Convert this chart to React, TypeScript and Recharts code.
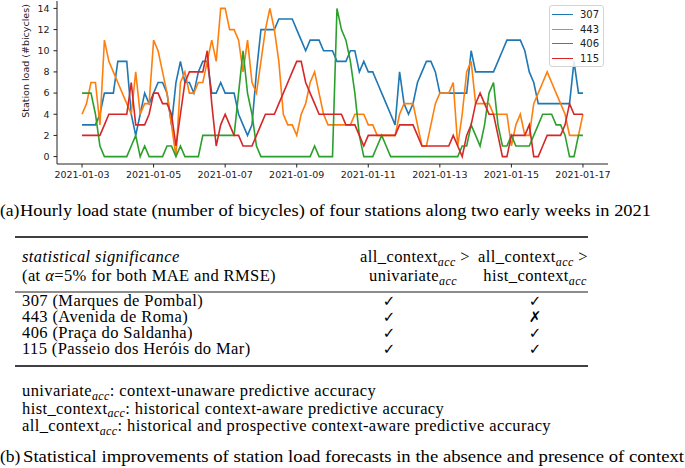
import React from 'react';
import { LineChart, Line, XAxis, YAxis, Legend, Label } from 'recharts';

// station load read every 3 hours, starting 2021-01-03 00:00
const STEP_HOURS = 3;

const load307 = [
  3, 3, 3, 3, 4, 6, 6, 6,
  9, 9, 9, 4, 2, 4, 6, 5,
  6, 7, 7, 6, 3, 7, 9, 7,
  7, 6, 8, 9, 9, 6, 6, 7,
  6, 6, 6, 4, 3, 2, 3, 8,
  12, 12, 12, 12, 13, 13, 13, 13,
  12, 11, 10, 11, 11, 11, 10, 10,
  10, 9, 9, 9, 10, 10, 8, 9,
  8, 8, 7, 6, 5, 4, 3, 8,
  5, 4, 5, 7, 8, 9, 9, 8,
  6, 6, 6, 6, 6, 6, 6, 10,
  8, 8, 8, 8, 8, 9, 10, 11,
  11, 11, 11, 10, 8, 7, 5, 5,
  5, 5, 5, 5, 5, 5, 9, 6,
  6,
];

const load443 = [
  4, 5, 7, 7, 3, 11, 9, 8,
  7, 6, 5, 4, 8, 4, 5, 5,
  11, 10, 8, 6, 3, 0, 7, 8,
  6, 6, 7, 7, 9, 11, 9, 14,
  14, 12, 12, 11, 8, 11, 7, 6,
  9, 12, 14, 12, 9, 4, 3, 3,
  2, 4, 5, 7, 8, 6, 4, 3,
  3, 3, 3, 3, 3, 4, 4, 4,
  3, 3, 2, 2, 2, 2, 2, 4,
  5, 5, 5, 3, 1, 1, 3, 5,
  6, 6, 6, 7, 1, 4, 8, 9,
  5, 5, 5, 5, 4, 4, 4, 4,
  1, 3, 4, 2, 2, 5, 6, 7,
  8, 7, 6, 5, 4, 2, 2, 2,
  4,
];

const load406 = [
  6, 6, 6, 4, 1, 0, 0, 0,
  0, 0, 0, 1, 2, 0, 1, 0,
  0, 0, 0, 1, 1, 0, 1, 0,
  0, 0, 0, 2, 2, 2, 2, 2,
  2, 2, 2, 6, 10, 6, 4, 1,
  0, 0, 0, 0, 0, 0, 0, 0,
  0, 0, 0, 0, 1, 0, 0, 0,
  0, 14, 12, 11, 9, 6, 2, 0,
  0, 0, 1, 2, 1, 0, 0, 0,
  0, 0, 0, 0, 0, 0, 0, 0,
  0, 0, 0, 0, 0, 1, 1, 3,
  2, 1, 3, 6, 7, 3, 1, 1,
  2, 1, 1, 1, 1, 2, 3, 4,
  4, 4, 3, 3, 2, 0, 0, 2,
  2,
];

const load115 = [
  2, 2, 2, 2, 2, 3, 4, 4,
  4, 4, 4, 7, 3, 3, 3, 4,
  6, 6, 5, 5, 4, 1, 4, 7,
  8, 8, 8, 8, 10, 5, 1, 3,
  4, 3, 2, 2, 1, 1, 1, 2,
  3, 4, 4, 4, 5, 6, 7, 8,
  9, 9, 7, 6, 5, 4, 4, 4,
  4, 4, 4, 3, 3, 3, 2, 1,
  2, 2, 2, 2, 2, 2, 2, 3,
  3, 3, 3, 2, 1, 1, 1, 1,
  1, 1, 1, 2, 1, 0, 2, 3,
  5, 6, 5, 4, 4, 2, 0, 0,
  2, 2, 2, 2, 3, 0, 0, 1,
  2, 2, 2, 2, 3, 5, 4, 4,
  4,
];

const STATIONS = ['307', '443', '406', '115'];
const COLORS = ['#1f77b4', '#ff7f0e', '#2ca02c', '#d62728'];
const X_TICKS = [0, 48, 96, 144, 192, 240, 288, 336];
const DATE_LABELS = ['2021-01-03', '2021-01-05', '2021-01-07', '2021-01-09', '2021-01-11', '2021-01-13', '2021-01-15', '2021-01-17'];
const Y_TICKS = [0, 2, 4, 6, 8, 10, 12, 14];

// table (b)
const STATION_NAMES = ['307 (Marques de Pombal)', '443 (Avenida de Roma)', '406 (Praça do Saldanha)', '115 (Passeio dos Heróis do Mar)'];
const BEATS_UNIVARIATE = [true, true, true, true];
const BEATS_HIST = [true, false, true, true];
const NOTES = [
  ['univariate', ': context-unaware predictive accuracy'],
  ['hist_context', ': historical context-aware predictive accuracy'],
  ['all_context', ': historical and prospective context-aware predictive accuracy'],
];
const CAPTION_A = 'Hourly load state (number of bicycles) of four stations along two early weeks in 2021';
const CAPTION_B = 'Statistical improvements of station load forecasts in the absence and presence of context';

const data = load307.map((v, i) => ({
  h: i * STEP_HOURS,
  s307: v,
  s443: load443[i],
  s406: load406[i],
  s115: load115[i],
}));

const SANS = 'DejaVu Sans';
const SERIF = 'Liberation Serif';
const INK = '#222';

const LegendBox = () => (
  <div style={{
    border: '1px solid #d4d4d4', borderRadius: 3, background: 'rgba(255,255,255,0.85)',
    padding: '1px 3px 1px 2px', fontFamily: SANS, fontSize: 10, color: INK, boxSizing: 'border-box', height: 62,
  }}>
    {STATIONS.map((s, i) => (
      <div key={s} style={{ display: 'flex', alignItems: 'center', height: 14.7 }}>
        <span style={{ width: 21, borderTop: `1.6px solid ${COLORS[i]}`, marginRight: 7 }} />
        <span>{s}</span>
      </div>
    ))}
  </div>
);

// "name_acc" + trailing text, subscript set lower and smaller
const AccText = ({ name, after }: { name: string; after?: string }) => (
  <>
    <tspan>{name}</tspan>
    <tspan fontStyle="italic" fontSize={12} dy={3.5}>acc</tspan>
    {after ? <tspan dy={-3.5}>{after}</tspan> : null}
  </>
);

const TableFigure = () => {
  const f = { fontFamily: SERIF, fontSize: 16.5, fill: '#000', letterSpacing: 0.4 };
  const rowY = [306, 322, 338, 354];
  return (
    <svg width={685} height={468} style={{ position: 'absolute', left: 0, top: 0, pointerEvents: 'none' }}>
      <text x={0} y={216} {...f} letterSpacing={0} fontSize={17.5}>(a)</text>
      <text x={20} y={216} {...f} letterSpacing={0} textLength={631} lengthAdjust="spacingAndGlyphs">{CAPTION_A}</text>

      <line x1={15} x2={588} y1={237} y2={237} stroke="#000" strokeWidth={1.6} />
      <text x={22} y={262} {...f} fontStyle="italic">statistical significance</text>
      <text x={22} y={281} {...f}>(at <tspan fontStyle="italic">α</tspan>=5% for both MAE and RMSE)</text>
      <text x={415} y={262} {...f} textAnchor="middle"><AccText name="all_context" after=" >" /></text>
      <text x={533} y={262} {...f} textAnchor="middle"><AccText name="all_context" after=" >" /></text>
      <text x={413} y={281} {...f} textAnchor="middle"><AccText name="univariate" /></text>
      <text x={535} y={281} {...f} textAnchor="middle"><AccText name="hist_context" /></text>
      <line x1={15} x2={588} y1={292} y2={292} stroke="#000" strokeWidth={0.9} />

      {STATION_NAMES.map((name, i) => (
        <g key={name}>
          <text x={22} y={rowY[i]} {...f}>{name}</text>
          <text x={389} y={rowY[i]} fontFamily={SANS} fontSize={15} textAnchor="middle">{BEATS_UNIVARIATE[i] ? '✓' : '✗'}</text>
          <text x={535} y={rowY[i]} fontFamily={SANS} fontSize={15} textAnchor="middle">{BEATS_HIST[i] ? '✓' : '✗'}</text>
        </g>
      ))}
      <line x1={15} x2={588} y1={366} y2={366} stroke="#000" strokeWidth={1.6} />

      {NOTES.map(([name, text], i) => (
        <text key={name} x={22} y={396 + i * 17.5} {...f}><AccText name={name} after={text} /></text>
      ))}

      <text x={0} y={462} {...f} letterSpacing={0} fontSize={17.5}>(b)</text>
      <text x={23} y={462} {...f} letterSpacing={0} textLength={661} lengthAdjust="spacingAndGlyphs">{CAPTION_B}</text>
    </svg>
  );
};

export default function App() {
  return (
    <div style={{ position: 'absolute', left: 0, top: 0, width: 685, height: 468, background: '#fff' }}>
      <LineChart width={685} height={190} data={data} margin={{ top: 1, right: 77, bottom: 4, left: 0 }}>
        <XAxis
          dataKey="h" type="number" domain={[-16.8, 352.8]} ticks={X_TICKS} allowDataOverflow
          tickFormatter={(h: number) => DATE_LABELS[X_TICKS.indexOf(h)]}
          height={22} tickSize={3.5} tickMargin={4} stroke={INK}
          tick={{ fill: INK, fontSize: 9.5, fontFamily: SANS }}
        />
        <XAxis xAxisId="top" orientation="top" type="number" domain={[0, 1]} height={0} tick={false} tickLine={false} stroke={INK} />
        <YAxis
          type="number" domain={[-0.7, 14.7]} ticks={Y_TICKS} allowDataOverflow
          width={57} tickSize={3.5} tickMargin={4} stroke={INK}
          tick={{ fill: INK, fontSize: 9.5, fontFamily: SANS }}
        >
          <Label
            content={() => (
              <text x={25} y={61} transform="rotate(-90 25 61)" textAnchor="middle" dominantBaseline="central"
                fontSize={9.5} fontFamily={SANS} fill={INK}>Station load (#bicycles)</text>
            )}
          />
        </YAxis>
        <YAxis yAxisId="right" orientation="right" type="number" domain={[0, 1]} width={0} tick={false} tickLine={false} stroke={INK} />
        {STATIONS.map((s, i) => (
          <Line key={s} dataKey={`s${s}`} name={s} type="linear" stroke={COLORS[i]} strokeWidth={1.6}
            dot={false} isAnimationActive={false} />
        ))}
        <Legend layout="horizontal" verticalAlign="middle" align="center"
          wrapperStyle={{ left: 549, top: 5, width: 55 }} content={() => <LegendBox />} />
      </LineChart>
      <TableFigure />
    </div>
  );
}
